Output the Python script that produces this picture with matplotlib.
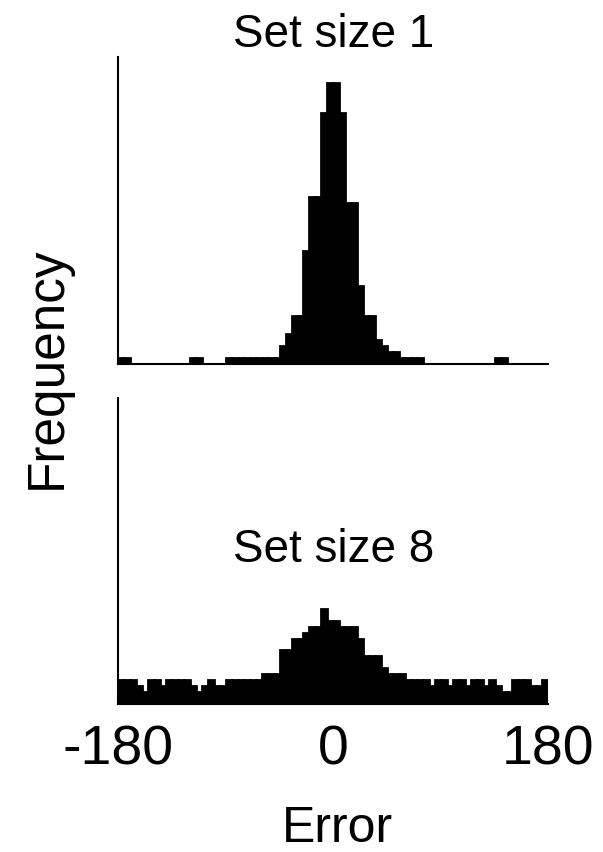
import numpy as np
import matplotlib.pyplot as plt

plt.rcParams['font.family'] = ['Liberation Sans', 'DejaVu Sans']

# 5 degree bins from -180 to 180
bin_left = np.arange(-180, 180, 5)
bin_width = 5

counts_ss1 = [1, 1, 0, 0, 0, 0, 0, 0, 0, 0, 0, 0, 1, 1, 0, 0, 0, 0,
              1, 1, 1, 1, 1, 1, 1, 1, 1,
              3, 5, 8, 8, 19, 28, 28, 42, 47, 47, 42, 27, 27, 13, 8, 8, 4, 3, 2, 2,
              1, 1, 1, 1, 0, 0, 0, 0, 0, 0, 0, 0, 0, 0, 0, 0, 1, 1,
              0, 0, 0, 0, 0, 0, 0]
counts_ss8 = [4, 4, 4, 3, 2, 4, 4, 3, 4, 4, 4, 4, 3, 2, 3, 4, 3, 3,
              4, 4, 4, 4, 4, 4, 5, 5, 5,
              9, 9, 11, 11, 12, 13, 13, 16, 14, 14, 13, 13, 13, 11, 8, 8, 8, 6, 5, 5,
              5, 4, 4, 4, 4, 3, 4, 4, 3, 4, 4, 3, 4, 4, 3, 4, 3, 2,
              2, 4, 4, 4, 3, 3, 4]

titles = ['Set size 1', 'Set size 8']
xticks = [-180, 0, 180]
ymax = 51.4

fig = plt.figure(figsize=(6.03, 8.52), dpi=100)
ax1 = fig.add_axes([0.1963, 0.5728, 0.7130, 0.3603])
ax2 = fig.add_axes([0.1963, 0.1737, 0.7130, 0.3592])

for ax, counts in [(ax1, counts_ss1), (ax2, counts_ss8)]:
    ax.bar(bin_left, counts, width=bin_width, align='edge',
           color='black', edgecolor='black', linewidth=2)
    ax.set_xlim(-180, 180)
    ax.set_ylim(0, ymax)
    for side in ['top', 'right']:
        ax.spines[side].set_visible(False)
    for side in ['left', 'bottom']:
        ax.spines[side].set_linewidth(1.5)
    ax.set_yticks([])
    ax.tick_params(length=0)

ax1.set_xticks([])
ax1.set_title(titles[0], fontsize=33, pad=3)
ax2.text(0.5, 0.464, titles[1], transform=ax2.transAxes, fontsize=33,
         ha='center', va='baseline')

ax2.set_xticks(xticks)
ax2.set_xticklabels([str(t) for t in xticks], fontsize=40)
ax2.tick_params(axis='x', pad=15)

fig.text(47 / 603, 1 - 368 / 852, 'Frequency', rotation=90, fontsize=37,
         ha='center', va='center')
fig.text(337 / 603, 1 - 842 / 852, 'Error', fontsize=36,
         ha='center', va='baseline')

fig.savefig('out.png', dpi=100)
